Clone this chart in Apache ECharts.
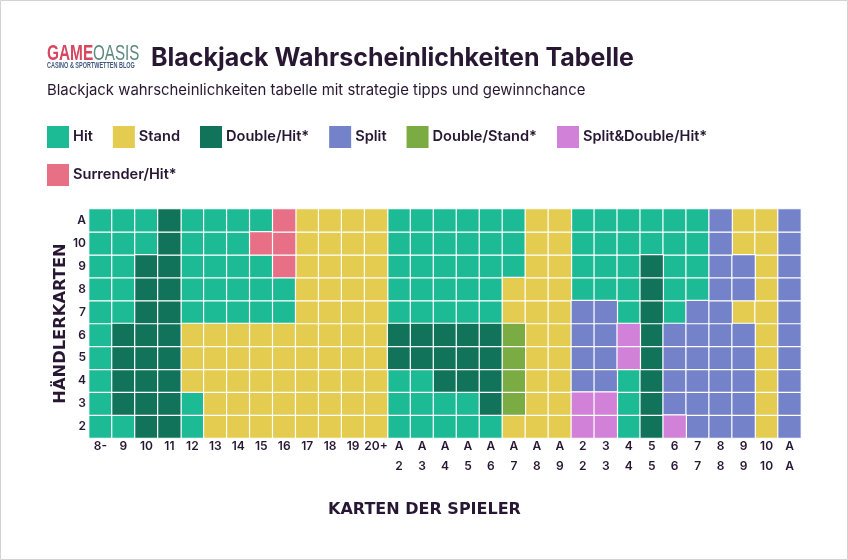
<!DOCTYPE html>
<html lang="de">
<head>
<meta charset="UTF-8">
<title>Blackjack Wahrscheinlichkeiten Tabelle</title>
<script src="https://cdn.jsdelivr.net/npm/echarts@6/dist/echarts.min.js"></script>
<style>
  * { margin: 0; padding: 0; }
  body { background: #fff; }
  #main { width: 848px; height: 560px; }
</style>
</head>
<body>
<div id="main"></div>
<script>
// Spielerhand (x) und Händlerkarte (y)
var playerCards = ['8-', '9', '10', '11', '12', '13', '14', '15', '16', '17', '18', '19', '20+',
  'A\n2', 'A\n3', 'A\n4', 'A\n5', 'A\n6', 'A\n7', 'A\n8', 'A\n9',
  '2\n2', '3\n3', '4\n4', '5\n5', '6\n6', '7\n7', '8\n8', '9\n9', '10\n10', 'A\nA'];
var dealerCards = ['2', '3', '4', '5', '6', '7', '8', '9', '10', 'A'];

// H Hit, S Stand, D Double/Hit, P Split, T Double/Stand, M Split&Double/Hit, R Surrender/Hit
var dealer2  = 'H H D D H S S S S S S S S H H H H H S S S M M H D M P P P S P'.split(' ');
var dealer3  = 'H D D D H S S S S S S S S H H H H D T S S M M H D P P P P S P'.split(' ');
var dealer4  = 'H D D D S S S S S S S S S H H D D D T S S P P H D P P P P S P'.split(' ');
var dealer5  = 'H D D D S S S S S S S S S D D D D D T S S P P M D P P P P S P'.split(' ');
var dealer6  = 'H D D D S S S S S S S S S D D D D D T S S P P M D P P P P S P'.split(' ');
var dealer7  = 'H H D D H H H H H S S S S H H H H H S S S P P H D H P P S S P'.split(' ');
var dealer8  = 'H H D D H H H H H S S S S H H H H H S S S H H H D H H P P S P'.split(' ');
var dealer9  = 'H H D D H H H H R S S S S H H H H H H S S H H H D H H P P S P'.split(' ');
var dealer10 = 'H H H D H H H R R S S S S H H H H H H S S H H H H H H P S S P'.split(' ');
var dealerA  = 'H H H D H H H H R S S S S H H H H H H S S H H H H H H P S S P'.split(' ');
var rows = [dealer2, dealer3, dealer4, dealer5, dealer6, dealer7, dealer8, dealer9, dealer10, dealerA];

var actionCodes = ['H', 'S', 'D', 'P', 'T', 'M', 'R'];
var actionNames = ['Hit', 'Stand', 'Double/Hit*', 'Split', 'Double/Stand*', 'Split&Double/Hit*', 'Surrender/Hit*'];
var actionColors = ['#1dba96', '#e3cc50', '#12735b', '#7482c9', '#7bab43', '#d281d8', '#e76f86'];

var textColor = '#271733';
var baseFont = 'Inter';

var series = actionCodes.map(function (code, idx) {
  var cells = [];
  rows.forEach(function (row, y) {
    row.forEach(function (c, x) {
      if (c === code) cells.push([x, y, idx]);
    });
  });
  return {
    name: actionNames[idx],
    type: 'heatmap',
    data: cells,
    itemStyle: { color: actionColors[idx], borderColor: '#fff', borderWidth: 1.2 },
    emphasis: { disabled: true }
  };
});

var legendBase = {
  orient: 'horizontal',
  icon: 'rect',
  itemWidth: 22,
  itemHeight: 22,
  itemGap: 20,
  selectedMode: false,
  itemStyle: { borderWidth: 0 },
  textStyle: { color: textColor, fontFamily: baseFont, fontWeight: 600, fontSize: 14.6, padding: [1, 0, 0, -1] }
};

var chart = echarts.init(document.getElementById('main'));
chart.setOption({
  animation: false,
  backgroundColor: '#fff',
  title: [
    { text: 'Blackjack Wahrscheinlichkeiten Tabelle', left: 146, top: 41,
      textStyle: { color: textColor, fontFamily: baseFont, fontWeight: 700, fontSize: 25 } },
    { text: 'Blackjack wahrscheinlichkeiten tabelle mit strategie tipps und gewinnchance', left: 42, top: 78,
      textStyle: { color: textColor, fontFamily: baseFont, fontWeight: 400, fontSize: 14.9 } }
  ],
  legend: [
    Object.assign({}, legendBase, { left: 42, top: 121, data: actionNames.slice(0, 6) }),
    Object.assign({}, legendBase, { left: 42, top: 159, data: actionNames.slice(6) })
  ],
  grid: { left: 89, top: 209, width: 712, height: 229 },
  xAxis: {
    type: 'category',
    data: playerCards,
    name: 'KARTEN DER SPIELER',
    nameLocation: 'middle',
    nameGap: 64,
    nameTextStyle: { color: textColor, fontFamily: 'DejaVu Sans', fontWeight: 700, fontSize: 16, padding: [0, 41, 0, 0] },
    axisLine: { show: false },
    axisTick: { show: false },
    splitLine: { show: false },
    axisLabel: { interval: 0, margin: -2, color: textColor, fontFamily: baseFont, fontWeight: 600, fontSize: 12, lineHeight: 20 }
  },
  yAxis: {
    type: 'category',
    data: dealerCards,
    name: 'HÄNDLERKARTEN',
    nameLocation: 'middle',
    nameGap: 20,
    nameMoveOverlap: false,
    nameTextStyle: { color: textColor, fontFamily: 'DejaVu Sans', fontWeight: 700, fontSize: 16.3 },
    axisLine: { show: false },
    axisTick: { show: false },
    splitLine: { show: false },
    axisLabel: { interval: 0, margin: 3, color: textColor, fontFamily: baseFont, fontWeight: 600, fontSize: 12 }
  },
  graphic: [
    { type: 'rect', silent: true, z: -1, shape: { x: 0.5, y: 0.5, width: 847, height: 559 },
      style: { fill: 'none', stroke: '#d2d2d2', lineWidth: 1 } },
    { type: 'text', x: 47, y: 43, scaleX: 0.7, style: { text: 'GAME', fill: '#d8475f', font: '700 22px "Liberation Sans"' } },
    { type: 'text', x: 93, y: 43, scaleX: 0.69, style: { text: 'OASIS', fill: '#5f8a80', font: '400 22px "Liberation Sans"' } },
    { type: 'text', x: 47, y: 61, scaleX: 0.61, style: { text: 'CASINO & SPORTWETTEN BLOG', fill: '#40597f', font: '700 9px "Liberation Sans"' } }
  ],
  series: series
});
</script>
</body>
</html>
